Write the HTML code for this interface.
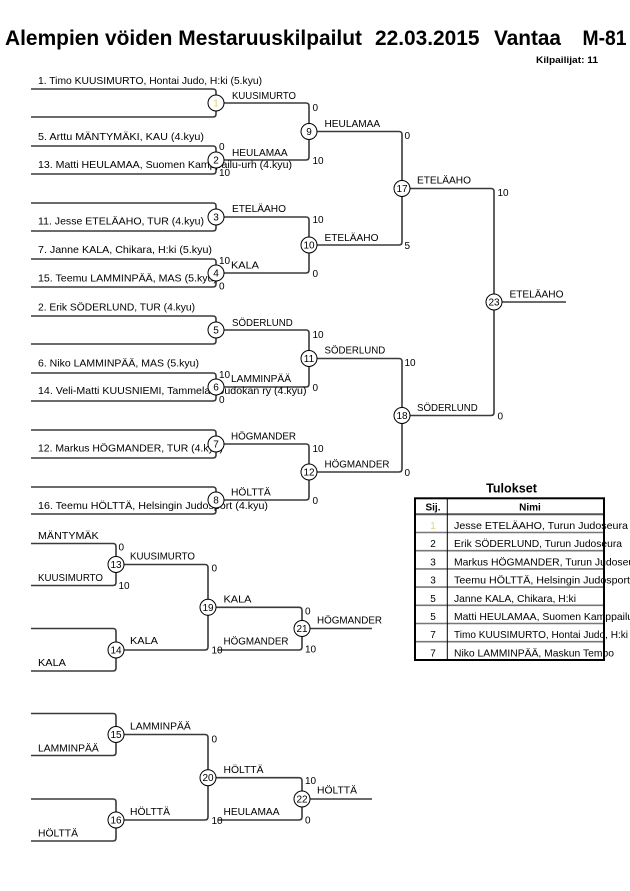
<!DOCTYPE html>
<html>
<head>
<meta charset="utf-8">
<style>
html,body{margin:0;padding:0;background:#fff;}
svg{display:block;}
text{font-family:"Liberation Sans",Arial,sans-serif;fill:#000;}
.t{font-size:10.4px;}
.l{font-size:10.2px;}
.s{font-size:10px;}
.n{font-size:10px;text-anchor:middle;}
</style>
</head>
<body>
<svg width="630" height="891" viewBox="0 0 630 891" xmlns="http://www.w3.org/2000/svg">
<rect x="0" y="0" width="630" height="891" fill="#fff"/>

<!-- Title -->
<g style="font-size:20.8px;font-weight:bold;">
<text x="5" y="45" textLength="357" lengthAdjust="spacingAndGlyphs">Alempien vöiden Mestaruuskilpailut</text>
<text x="375" y="45" textLength="104.5" lengthAdjust="spacingAndGlyphs">22.03.2015</text>
<text x="494" y="45" textLength="67" lengthAdjust="spacingAndGlyphs">Vantaa</text>
<text x="582.5" y="45" textLength="44" lengthAdjust="spacingAndGlyphs">M-81</text>
</g>
<text x="536" y="63" style="font-size:9.6px;font-weight:bold;" textLength="62" lengthAdjust="spacingAndGlyphs">Kilpailijat: 11</text>

<!-- Bracket lines -->
<g fill="none" stroke="#3a3a3a" stroke-width="1.6">
<path d="M31 89H213Q216 89 216 92V95 M31 117H213Q216 117 216 114V111"/>
<path d="M31 146H213Q216 146 216 149V152 M31 174H213Q216 174 216 171V168"/>
<path d="M31 203H213Q216 203 216 206V209 M31 231H213Q216 231 216 228V225"/>
<path d="M31 259H213Q216 259 216 262V265 M31 287H213Q216 287 216 284V281"/>
<path d="M31 316H213Q216 316 216 319V322 M31 344H213Q216 344 216 341V338"/>
<path d="M31 373H213Q216 373 216 376V379 M31 401H213Q216 401 216 398V395"/>
<path d="M31 430H213Q216 430 216 433V436 M31 458H213Q216 458 216 455V452"/>
<path d="M31 487H213Q216 487 216 490V492 M31 514H213Q216 514 216 511V508"/>
<path d="M224 103H306Q309 103 309 106V123.5 M224 160H306Q309 160 309 157V139.5"/>
<path d="M224 217H306Q309 217 309 220V237 M224 273H306Q309 273 309 270V253"/>
<path d="M224 330H306Q309 330 309 333V350.5 M224 387H306Q309 387 309 384V366.5"/>
<path d="M224 444H306Q309 444 309 447V464 M224 500H306Q309 500 309 497V480"/>
<path d="M317 131.5H399Q402 131.5 402 134.5V180.5 M317 245H399Q402 245 402 242V196.5"/>
<path d="M317 358.5H399Q402 358.5 402 361.5V407.5 M317 472H399Q402 472 402 469V423.5"/>
<path d="M410 188.5H491Q494 188.5 494 191.5V294 M410 415.5H491Q494 415.5 494 412.5V310"/>
<path d="M502 302H566"/>
<path d="M31 543.5H113Q116 543.5 116 546.5V556.5 M31 585.5H113Q116 585.5 116 582.5V572.5"/>
<path d="M31 628.5H113Q116 628.5 116 631.5V642 M31 671H113Q116 671 116 668V658"/>
<path d="M124 564.5H205Q208 564.5 208 567.5V599.3 M124 650H205Q208 650 208 647V615.3"/>
<path d="M216 607.3H299Q302 607.3 302 610.3V620.5 M218 650H299Q302 650 302 647V636.5"/>
<path d="M310 628.5H372"/>
<path d="M31 713.5H113Q116 713.5 116 716.5V726.5 M31 755.5H113Q116 755.5 116 752.5V742.5"/>
<path d="M31 799H113Q116 799 116 802V812 M31 841H113Q116 841 116 838V828"/>
<path d="M124 734.5H205Q208 734.5 208 737.5V769.7 M124 820H205Q208 820 208 817V785.7"/>
<path d="M216 777.7H299Q302 777.7 302 780.7V791 M218 820H299Q302 820 302 817V807"/>
<path d="M310 799H372"/>
</g>

<!-- Entry names -->
<g class="t">
<text x="38" y="84" textLength="224" lengthAdjust="spacingAndGlyphs">1. Timo KUUSIMURTO, Hontai Judo, H:ki (5.kyu)</text>
<text x="38" y="140" textLength="166" lengthAdjust="spacingAndGlyphs">5. Arttu MÄNTYMÄKI, KAU (4.kyu)</text>
<text x="38" y="168" textLength="254" lengthAdjust="spacingAndGlyphs">13. Matti HEULAMAA, Suomen Kamppailu-urh (4.kyu)</text>
<text x="38" y="224.5" textLength="166" lengthAdjust="spacingAndGlyphs">11. Jesse ETELÄAHO, TUR (4.kyu)</text>
<text x="38" y="253" textLength="174" lengthAdjust="spacingAndGlyphs">7. Janne KALA, Chikara, H:ki (5.kyu)</text>
<text x="38" y="281.5" textLength="179" lengthAdjust="spacingAndGlyphs">15. Teemu LAMMINPÄÄ, MAS (5.kyu)</text>
<text x="38" y="310.5" textLength="157" lengthAdjust="spacingAndGlyphs">2. Erik SÖDERLUND, TUR (4.kyu)</text>
<text x="38" y="366.5" textLength="161" lengthAdjust="spacingAndGlyphs">6. Niko LAMMINPÄÄ, MAS (5.kyu)</text>
<text x="38" y="394" textLength="268.5" lengthAdjust="spacingAndGlyphs">14. Veli-Matti KUUSNIEMI, Tammelan Judokan ry (4.kyu)</text>
<text x="38" y="451.5" textLength="185" lengthAdjust="spacingAndGlyphs">12. Markus HÖGMANDER, TUR (4.kyu)</text>
<text x="38" y="509" textLength="230" lengthAdjust="spacingAndGlyphs">16. Teemu HÖLTTÄ, Helsingin Judosport (4.kyu)</text>
</g>

<!-- Winner labels -->
<g class="l">
<text x="232" y="99" textLength="64" lengthAdjust="spacingAndGlyphs">KUUSIMURTO</text>
<text x="232" y="156" textLength="55.6" lengthAdjust="spacingAndGlyphs">HEULAMAA</text>
<text x="232" y="212" textLength="54" lengthAdjust="spacingAndGlyphs">ETELÄAHO</text>
<text x="231" y="268.5" textLength="28" lengthAdjust="spacingAndGlyphs">KALA</text>
<text x="232" y="326" textLength="60.7" lengthAdjust="spacingAndGlyphs">SÖDERLUND</text>
<text x="231" y="382" textLength="60" lengthAdjust="spacingAndGlyphs">LAMMINPÄÄ</text>
<text x="231" y="439.5" textLength="65" lengthAdjust="spacingAndGlyphs">HÖGMANDER</text>
<text x="231" y="495.5" textLength="39.7" lengthAdjust="spacingAndGlyphs">HÖLTTÄ</text>
<text x="324.5" y="127" textLength="55.6" lengthAdjust="spacingAndGlyphs">HEULAMAA</text>
<text x="324.5" y="241" textLength="54" lengthAdjust="spacingAndGlyphs">ETELÄAHO</text>
<text x="324.5" y="353.5" textLength="60.7" lengthAdjust="spacingAndGlyphs">SÖDERLUND</text>
<text x="324.5" y="467.5" textLength="65" lengthAdjust="spacingAndGlyphs">HÖGMANDER</text>
<text x="417" y="183.5" textLength="54" lengthAdjust="spacingAndGlyphs">ETELÄAHO</text>
<text x="417" y="411" textLength="60.7" lengthAdjust="spacingAndGlyphs">SÖDERLUND</text>
<text x="509.5" y="297.5" textLength="54" lengthAdjust="spacingAndGlyphs">ETELÄAHO</text>

<text x="38" y="539" textLength="60.7" lengthAdjust="spacingAndGlyphs">MÄNTYMÄK</text>
<text x="38" y="581" textLength="65" lengthAdjust="spacingAndGlyphs">KUUSIMURTO</text>
<text x="38" y="666" textLength="28" lengthAdjust="spacingAndGlyphs">KALA</text>
<text x="130" y="559.5" textLength="65" lengthAdjust="spacingAndGlyphs">KUUSIMURTO</text>
<text x="130" y="644" textLength="28" lengthAdjust="spacingAndGlyphs">KALA</text>
<text x="223.5" y="602.5" textLength="28" lengthAdjust="spacingAndGlyphs">KALA</text>
<text x="223.5" y="644.5" textLength="65" lengthAdjust="spacingAndGlyphs">HÖGMANDER</text>
<text x="317" y="623.5" textLength="65" lengthAdjust="spacingAndGlyphs">HÖGMANDER</text>

<text x="38" y="751.7" textLength="60.7" lengthAdjust="spacingAndGlyphs">LAMMINPÄÄ</text>
<text x="38" y="836.7" textLength="40" lengthAdjust="spacingAndGlyphs">HÖLTTÄ</text>
<text x="130" y="729.5" textLength="60.7" lengthAdjust="spacingAndGlyphs">LAMMINPÄÄ</text>
<text x="130" y="815" textLength="40" lengthAdjust="spacingAndGlyphs">HÖLTTÄ</text>
<text x="223.5" y="773" textLength="40" lengthAdjust="spacingAndGlyphs">HÖLTTÄ</text>
<text x="223.5" y="815" textLength="56" lengthAdjust="spacingAndGlyphs">HEULAMAA</text>
<text x="317" y="793.5" textLength="40" lengthAdjust="spacingAndGlyphs">HÖLTTÄ</text>
</g>

<!-- Scores -->
<g class="s">
<text x="219" y="150">0</text>
<text x="219" y="176">10</text>
<text x="219" y="264">10</text>
<text x="219" y="289.5">0</text>
<text x="219" y="378">10</text>
<text x="219" y="403">0</text>

<text x="312.5" y="111">0</text>
<text x="312.5" y="164">10</text>
<text x="312.5" y="223">10</text>
<text x="312.5" y="277">0</text>
<text x="312.5" y="338">10</text>
<text x="312.5" y="391">0</text>
<text x="312.5" y="452">10</text>
<text x="312.5" y="504">0</text>

<text x="404.5" y="139">0</text>
<text x="404.5" y="249">5</text>
<text x="404.5" y="366">10</text>
<text x="404.5" y="476">0</text>

<text x="497.5" y="196">10</text>
<text x="497.5" y="419.5">0</text>

<text x="118.5" y="550.7">0</text>
<text x="118.5" y="589">10</text>
<text x="211.5" y="571.7">0</text>
<text x="211.5" y="653.3">10</text>
<text x="305" y="614.3">0</text>
<text x="305" y="652.3">10</text>

<text x="211.5" y="742.7">0</text>
<text x="211.5" y="824">10</text>
<text x="305" y="784">10</text>
<text x="305" y="823.3">0</text>
</g>

<!-- Circles -->
<g fill="#fff" stroke="#000" stroke-width="1">
<circle cx="216" cy="103" r="8"/>
<circle cx="216" cy="160" r="8"/>
<circle cx="216" cy="217" r="8"/>
<circle cx="216" cy="273" r="8"/>
<circle cx="216" cy="330" r="8"/>
<circle cx="216" cy="387" r="8"/>
<circle cx="216" cy="444" r="8"/>
<circle cx="216" cy="500" r="8"/>
<circle cx="309" cy="131.5" r="8"/>
<circle cx="309" cy="245" r="8"/>
<circle cx="309" cy="358.5" r="8"/>
<circle cx="309" cy="472" r="8"/>
<circle cx="402" cy="188.5" r="8"/>
<circle cx="402" cy="415.5" r="8"/>
<circle cx="494" cy="302" r="8"/>
<circle cx="116" cy="564.5" r="8"/>
<circle cx="116" cy="650" r="8"/>
<circle cx="208" cy="607.3" r="8"/>
<circle cx="302" cy="628.5" r="8"/>
<circle cx="116" cy="734.5" r="8"/>
<circle cx="116" cy="820" r="8"/>
<circle cx="208" cy="777.7" r="8"/>
<circle cx="302" cy="799" r="8"/>
</g>
<g class="n">
<text x="216" y="106.5" style="fill:#e0d080">1</text>
<text x="216" y="163.5">2</text>
<text x="216" y="220.5">3</text>
<text x="216" y="276.5">4</text>
<text x="216" y="333.5">5</text>
<text x="216" y="390.5">6</text>
<text x="216" y="447.5">7</text>
<text x="216" y="503.5">8</text>
<text x="309" y="135">9</text>
<text x="309" y="248.5">10</text>
<text x="309" y="362">11</text>
<text x="309" y="475.5">12</text>
<text x="402" y="192">17</text>
<text x="402" y="419">18</text>
<text x="494" y="305.5">23</text>
<text x="116" y="568">13</text>
<text x="116" y="653.5">14</text>
<text x="208" y="610.8">19</text>
<text x="302" y="632">21</text>
<text x="116" y="738">15</text>
<text x="116" y="823.5">16</text>
<text x="208" y="781.2">20</text>
<text x="302" y="802.5">22</text>
</g>

<!-- Results table -->
<text x="511.5" y="492.7" style="font-size:12.6px;font-weight:bold;text-anchor:middle;">Tulokset</text>
<g stroke="#777" stroke-width="1.6">
<line x1="415" y1="514.3" x2="604" y2="514.3" stroke="#555" stroke-width="2"/>
<line x1="415" y1="532.5" x2="604" y2="532.5"/>
<line x1="415" y1="550.7" x2="604" y2="550.7"/>
<line x1="415" y1="568.9" x2="604" y2="568.9"/>
<line x1="415" y1="587.1" x2="604" y2="587.1"/>
<line x1="415" y1="605.3" x2="604" y2="605.3"/>
<line x1="415" y1="623.5" x2="604" y2="623.5"/>
<line x1="415" y1="641.7" x2="604" y2="641.7"/>
</g>
<line x1="447.3" y1="498" x2="447.3" y2="660" stroke="#000" stroke-width="1"/>
<rect x="415" y="498.3" width="189" height="161.7" fill="none" stroke="#000" stroke-width="2"/>
<g class="s">
<text x="433" y="510.7" style="font-weight:bold;text-anchor:middle;">Sij.</text>
<text x="530" y="510.7" style="font-weight:bold;text-anchor:middle;">Nimi</text>
<g style="text-anchor:middle;">
<text x="433" y="529" style="fill:#e0d080">1</text>
<text x="433" y="547.2">2</text>
<text x="433" y="565.4">3</text>
<text x="433" y="583.6">3</text>
<text x="433" y="601.8">5</text>
<text x="433" y="620">5</text>
<text x="433" y="638.2">7</text>
<text x="433" y="656.4">7</text>
</g>
</g>
<g style="font-size:10.4px;">
<text x="454" y="529" textLength="174" lengthAdjust="spacingAndGlyphs">Jesse ETELÄAHO, Turun Judoseura</text>
<text x="454" y="547.2" textLength="168" lengthAdjust="spacingAndGlyphs">Erik SÖDERLUND, Turun Judoseura</text>
<text x="454" y="565.4">Markus HÖGMANDER, Turun Judoseura</text>
<text x="454" y="583.6" textLength="176" lengthAdjust="spacingAndGlyphs">Teemu HÖLTTÄ, Helsingin Judosport</text>
<text x="454" y="601.8" textLength="122" lengthAdjust="spacingAndGlyphs">Janne KALA, Chikara, H:ki</text>
<text x="454" y="620">Matti HEULAMAA, Suomen Kamppailu-urh</text>
<text x="454" y="638.2" textLength="174" lengthAdjust="spacingAndGlyphs">Timo KUUSIMURTO, Hontai Judo, H:ki</text>
<text x="454" y="656.4" textLength="160" lengthAdjust="spacingAndGlyphs">Niko LAMMINPÄÄ, Maskun Tempo</text>
</g>
</svg>
</body>
</html>
